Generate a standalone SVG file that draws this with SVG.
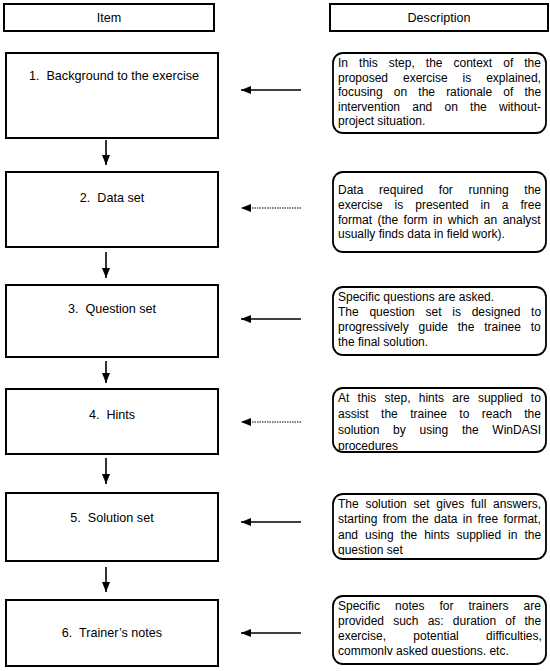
<svg xmlns="http://www.w3.org/2000/svg" width="550" height="671" viewBox="0 0 550 671">
<style>
.box{fill:#fff;stroke:#000;stroke-width:2}
.desc{fill:#fff;stroke:#000;stroke-width:1.8}
.t{font-family:"Liberation Sans",Arial,sans-serif;font-size:12px;fill:#000}
.it{font-size:12.6px}
.c{text-anchor:middle}
.ln{stroke:#000;stroke-width:1.6;fill:none}
.dot{stroke:#000;stroke-width:1.2;stroke-dasharray:1.5 1;fill:none}
</style>
<defs>
<marker id="ah" viewBox="0 0 10 8" refX="10" refY="4" markerWidth="10" markerHeight="8" markerUnits="userSpaceOnUse" orient="auto"><path d="M0,0 L10,4 L0,8 Z" fill="#000"/></marker>
<clipPath id="c4"><rect x="332" y="388" width="215" height="63"/></clipPath>
<clipPath id="c5"><rect x="332" y="494" width="215" height="61"/></clipPath>
<clipPath id="c6"><rect x="332" y="596" width="215" height="59"/></clipPath>
</defs>

<g id="hdr-item"><rect class="box" x="4" y="4" width="210" height="27"/><text class="t it c" x="109" y="22">Item</text></g>
<g id="hdr-desc"><rect class="box" x="330" y="4" width="218" height="27"/><text class="t it c" x="439" y="22">Description</text></g>

<g id="item1"><rect class="box" x="6" y="53" width="212" height="85"/><text class="t it c" x="114" y="80" xml:space="preserve">1.  Background to the exercise</text></g>
<g id="item2"><rect class="box" x="6" y="172" width="212" height="75"/><text class="t it c" x="112" y="202" xml:space="preserve">2.  Data set</text></g>
<g id="item3"><rect class="box" x="6" y="285" width="212" height="72"/><text class="t it c" x="112" y="313" xml:space="preserve">3.  Question set</text></g>
<g id="item4"><rect class="box" x="6" y="389" width="212" height="65"/><text class="t it c" x="112" y="419" xml:space="preserve">4.  Hints</text></g>
<g id="item5"><rect class="box" x="6" y="493" width="212" height="68"/><text class="t it c" x="112" y="522" xml:space="preserve">5.  Solution set</text></g>
<g id="item6"><rect class="box" x="6" y="600" width="212" height="66"/><text class="t it c" x="112" y="637" xml:space="preserve">6.  Trainer’s notes</text></g>

<g id="desc1"><rect class="desc" x="333" y="53" width="213" height="80" rx="10"/>
<text class="t">
<tspan x="338" y="67" word-spacing="7.7">In this step, the context of the</tspan>
<tspan x="338" y="81.5" word-spacing="11.6">proposed exercise is explained,</tspan>
<tspan x="338" y="96" word-spacing="7.8">focusing on the rationale of the</tspan>
<tspan x="338" y="110.5" word-spacing="8.9">intervention and on the without-</tspan>
<tspan x="338" y="125">project situation.</tspan>
</text></g>

<g id="desc2"><rect class="desc" x="333" y="172" width="213" height="80" rx="10"/>
<text class="t">
<tspan x="338" y="194" word-spacing="12.4">Data required for running the</tspan>
<tspan x="338" y="209" word-spacing="8.6">exercise is presented in a free</tspan>
<tspan x="338" y="223.5" word-spacing="2.1">format (the form in which an analyst</tspan>
<tspan x="338" y="238">usually finds data in field work).</tspan>
</text></g>

<g id="desc3"><rect class="desc" x="333" y="287" width="213" height="68" rx="10"/>
<text class="t">
<tspan x="338" y="301">Specific questions are asked.</tspan>
<tspan x="338" y="316" word-spacing="7.4">The question set is designed to</tspan>
<tspan x="338" y="331" word-spacing="6.5">progressively guide the trainee to</tspan>
<tspan x="338" y="346">the final solution.</tspan>
</text></g>

<g id="desc4"><rect class="desc" x="333" y="388" width="213" height="64" rx="10"/>
<text class="t" clip-path="url(#c4)">
<tspan x="338" y="402" word-spacing="4.9">At this step, hints are supplied to</tspan>
<tspan x="338" y="418" word-spacing="9.1">assist the trainee to reach the</tspan>
<tspan x="338" y="434" word-spacing="10.4">solution by using the WinDASI</tspan>
<tspan x="338" y="450">procedures</tspan>
</text></g>

<g id="desc5"><rect class="desc" x="333" y="494" width="213" height="65" rx="10"/>
<text class="t" clip-path="url(#c5)">
<tspan x="338" y="508" word-spacing="3.4">The solution set gives full answers,</tspan>
<tspan x="338" y="523" word-spacing="2">starting from the data in free format,</tspan>
<tspan x="338" y="539" word-spacing="3.6">and using the hints supplied in the</tspan>
<tspan x="338" y="554">question set</tspan>
</text></g>

<g id="desc6"><rect class="desc" x="333" y="596" width="213" height="68" rx="10"/>
<text class="t" clip-path="url(#c6)">
<tspan x="338" y="610" word-spacing="11.7">Specific notes for trainers are</tspan>
<tspan x="338" y="625" word-spacing="5.8">provided such as: duration of the</tspan>
<tspan x="338" y="640" word-spacing="24">exercise, potential difficulties,</tspan>
<tspan x="338" y="655">commonly asked questions, etc.</tspan>
</text></g>

<g id="connectors">
<line class="ln" x1="106" y1="140" x2="106" y2="165" marker-end="url(#ah)"/>
<line class="ln" x1="106" y1="252" x2="106" y2="278" marker-end="url(#ah)"/>
<line class="ln" x1="106" y1="361" x2="106" y2="383" marker-end="url(#ah)"/>
<line class="ln" x1="106" y1="458" x2="106" y2="484" marker-end="url(#ah)"/>
<line class="ln" x1="106" y1="567" x2="106" y2="592" marker-end="url(#ah)"/>
<line class="ln" x1="301" y1="90" x2="241" y2="90" marker-end="url(#ah)"/>
<line class="dot" x1="301" y1="208" x2="241" y2="208" marker-end="url(#ah)"/>
<line class="ln" x1="301" y1="319" x2="241" y2="319" marker-end="url(#ah)"/>
<line class="dot" x1="301" y1="422" x2="241" y2="422" marker-end="url(#ah)"/>
<line class="ln" x1="301" y1="522" x2="241" y2="522" marker-end="url(#ah)"/>
<line class="ln" x1="301" y1="633" x2="241" y2="633" marker-end="url(#ah)"/>
</g>
</svg>
